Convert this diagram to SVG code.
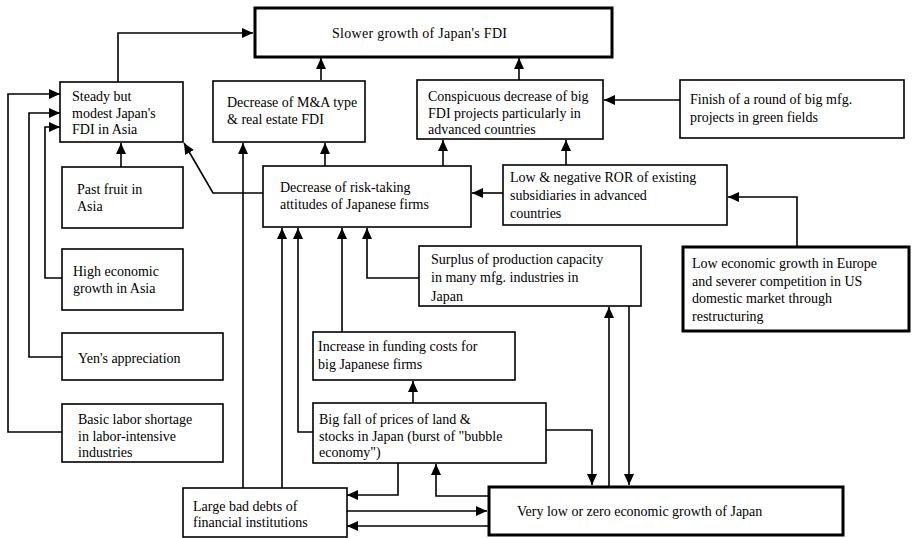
<svg xmlns="http://www.w3.org/2000/svg" width="912" height="538" viewBox="0 0 912 538">
<style>
.box{fill:#fff;stroke:#000;stroke-width:1.6}
.thick{fill:#fff;stroke:#000;stroke-width:3}
text{font-family:"Liberation Serif","Times New Roman",serif;font-size:14px;fill:#000}
.c{fill:none;stroke:#000;stroke-width:1.6;marker-end:url(#ah)}
.n{fill:none;stroke:#000;stroke-width:1.6}
</style>
<defs>
<marker id="ah" markerUnits="userSpaceOnUse" markerWidth="12" markerHeight="10" refX="11" refY="5" orient="auto">
<path d="M0,0 L11,5 L0,10 z" fill="#000"/>
</marker>
</defs>
<rect width="912" height="538" fill="#fff"/>
<g id="connectors">
<path class="c" d="M118,82 V33 H253"/>
<path class="c" d="M321,80 V58"/>
<path class="c" d="M519,80 V58"/>
<path class="c" d="M680,100 H604"/>
<path class="c" d="M121,167 V143"/>
<path class="c" d="M62,278 H45 V127 H60"/>
<path class="c" d="M62,357 H29 V113 H60"/>
<path class="c" d="M62,432 H8 V94 H60"/>
<path class="c" d="M263,193 H213 L184,143"/>
<path class="c" d="M325,166 V143"/>
<path class="c" d="M443,166 V140"/>
<path class="c" d="M566,165 V140"/>
<path class="c" d="M503,193 H472"/>
<path class="c" d="M797,246 V197 H728"/>
<path class="c" d="M419,278 H367 V228"/>
<path class="c" d="M342,332 V228"/>
<path class="c" d="M313,432 H298 V228"/>
<path class="c" d="M282,488 V228"/>
<path class="c" d="M243,488 V143"/>
<path class="c" d="M413,403 V381"/>
<path class="c" d="M546,430 H592 V485"/>
<path class="c" d="M609,487 V307"/>
<path class="c" d="M629,306 V485"/>
<path class="c" d="M398,463 V495 H347"/>
<path class="c" d="M489,496 H436 V464"/>
<path class="c" d="M347,511 H487"/>
<path class="c" d="M489,526 H347"/>
</g>
<g id="slower"><rect class="thick" x="255" y="8" width="357" height="49"/><text x="332" y="38" textLength="175">Slower growth of Japan's FDI</text></g>
<g id="steady"><rect class="box" x="60" y="82" width="123" height="60"/><text x="72" y="101">Steady but</text><text x="72" y="118">modest Japan's</text><text x="72" y="134">FDI in Asia</text></g>
<g id="ma"><rect class="box" x="213" y="81" width="152" height="61"/><text x="227" y="107">Decrease of M&amp;A type</text><text x="227" y="124">&amp; real estate FDI</text></g>
<g id="conspicuous"><rect class="box" x="417" y="80" width="186" height="59"/><text x="428" y="101">Conspicuous decrease of big</text><text x="428" y="118">FDI projects particularly in</text><text x="428" y="134">advanced countries</text></g>
<g id="finish"><rect class="box" x="680" y="80" width="224" height="58"/><text x="690" y="104">Finish of a round of big mfg.</text><text x="690" y="122">projects in green fields</text></g>
<g id="pastfruit"><rect class="box" x="62" y="167" width="121" height="61"/><text x="77" y="194">Past fruit in</text><text x="77" y="211">Asia</text></g>
<g id="highgrowth"><rect class="box" x="62" y="249" width="121" height="61"/><text x="73" y="276">High economic</text><text x="73" y="293">growth in Asia</text></g>
<g id="yen"><rect class="box" x="62" y="333" width="161" height="47"/><text x="78" y="363">Yen's appreciation</text></g>
<g id="labor"><rect class="box" x="62" y="404" width="161" height="58"/><text x="78" y="424">Basic labor shortage</text><text x="78" y="441">in labor-intensive</text><text x="78" y="457">industries</text></g>
<g id="risk"><rect class="box" x="263" y="166" width="208" height="61"/><text x="280" y="192">Decrease of risk-taking</text><text x="280" y="209">attitudes of Japanese firms</text></g>
<g id="ror"><rect class="box" x="503" y="165" width="224" height="60"/><text x="510" y="182">Low &amp; negative ROR of existing</text><text x="510" y="200">subsidiaries in advanced</text><text x="510" y="218">countries</text></g>
<g id="europe"><rect class="thick" x="683" y="247" width="226" height="84"/><text x="692" y="268">Low economic growth in Europe</text><text x="692" y="286">and severer competition in US</text><text x="692" y="303">domestic market through</text><text x="692" y="321">restructuring</text></g>
<g id="surplus"><rect class="box" x="419" y="246" width="222" height="60"/><text x="431" y="264">Surplus of production capacity</text><text x="431" y="282">in many mfg. industries in</text><text x="431" y="301">Japan</text></g>
<g id="funding"><rect class="box" x="313" y="332" width="202" height="48"/><text x="318" y="351">Increase in funding costs for</text><text x="318" y="369">big Japanese firms</text></g>
<g id="bigfall"><rect class="box" x="313" y="403" width="233" height="60"/><text x="319" y="424">Big fall of prices of land &amp;</text><text x="319" y="441">stocks in Japan (burst of "bubble</text><text x="319" y="457">economy")</text></g>
<g id="baddebts"><rect class="box" x="183" y="488" width="164" height="49"/><text x="193" y="511">Large bad debts of</text><text x="193" y="527">financial institutions</text></g>
<g id="verylow"><rect class="thick" x="489" y="487" width="354" height="48"/><text x="517" y="516">Very low or zero economic growth of Japan</text></g>
</svg>
